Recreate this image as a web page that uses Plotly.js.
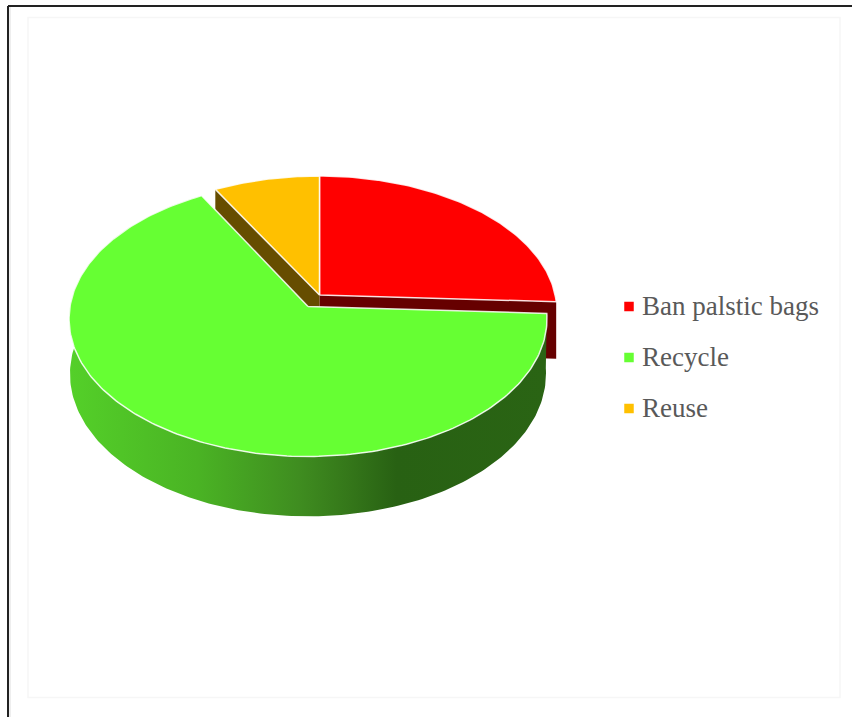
<!DOCTYPE html>
<html>
<head>
<meta charset="utf-8">
<script src="https://cdn.plot.ly/plotly-3.0.1.min.js"></script>
<style>html,body{margin:0;padding:0;background:#fff}#chart{width:852px;height:717px}</style>
</head>
<body>
<div id="chart"></div>
<script>
// Shares of each waste-reduction measure, clockwise from twelve o'clock
const categories = ['Ban palstic bags', 'Recycle', 'Reuse'];
const values = [25.8, 66.2, 8];
const topColors = ['#ff0000', '#66ff33', '#ffc000'];
const wallColors = ['#660000', '#2a6414', '#664d00'];

// Where each wedge's tip sits once the green wedge is pulled out of the pie
const tipX = [319.5, 308, 319.5];
const tipY = [295, 306.5, 295];
// The pulled-out wedge is nearer the viewer, so its projection differs a little
const wedgeScale = [0.99, 1, 1];
const wedgeFlatten = [132.7, 136.5, 132.7];
const wedgePerspective = [0.115, 0.09, 0.115];

// Shading of the curved green wall, left to right
const wallStops = [[0, '#54d029'], [0.27, '#4ab324'], [0.48, '#3f8d20'], [0.58, '#35781a'], [0.685, '#286113'], [1, '#2a6414']];

// Tilted-disc projection of the pie
const RADIUS = 238, DEPTH = 54.5, CUT_DEPTH = 57, BASE_SCALE = 0.996;

function rim(i, deg, lowered) {
  const a = deg * Math.PI / 180, u = Math.sin(a), v = Math.cos(a);
  const s = 1 / (1 + wedgePerspective[i] * v);
  const shrink = lowered ? BASE_SCALE : 1;
  return [tipX[i] + RADIUS * wedgeScale[i] * u * s * shrink,
          tipY[i] - wedgeFlatten[i] * v * s + (lowered ? DEPTH * s : 0)];
}

function arc(i, from, to, lowered) {
  const pts = [], n = Math.max(2, Math.ceil(Math.abs(to - from)));
  for (let k = 0; k <= n; k++) pts.push(rim(i, from + (to - from) * k / n, lowered));
  return pts;
}

const total = values.reduce((a, b) => a + b, 0);
const spans = [];
values.reduce((start, val) => { const end = start + val / total * 360; spans.push([start, end]); return end; }, 0);

function poly(pts, fill, line, name) {
  return {
    type: 'scatter', mode: 'lines', name: name, hoverinfo: 'skip', showlegend: false,
    x: pts.map(p => p[0]), y: pts.map(p => p[1]),
    fill: 'toself', fillcolor: fill,
    line: line || {width: 0, color: fill}
  };
}

const whiteEdge = {color: 'rgba(255,255,255,0.85)', width: 1.5};

function face(i) {
  const [a, b] = spans[i];
  const pts = [[tipX[i], tipY[i]], ...arc(i, a, b, false), [tipX[i], tipY[i]]];
  return poly(pts, topColors[i], whiteEdge, categories[i]);
}

// Flat cut wall below the straight edge of a wedge, at angle deg
function cutWall(i, deg) {
  const outer = rim(i, deg, false);
  const pts = [[tipX[i], tipY[i]], outer, [outer[0], outer[1] + CUT_DEPTH], [tipX[i], tipY[i] + CUT_DEPTH], [tipX[i], tipY[i]]];
  return poly(pts, wallColors[i], null, categories[i] + ' wall');
}

// Curved outer wall of the green wedge
function curvedWall(i) {
  const [a, b] = spans[i];
  const upper = arc(i, a, b, false), lower = arc(i, a, b, true).reverse();
  const pts = [...upper, ...lower, upper[0]];
  const xs = pts.map(p => p[0]);
  const tr = poly(pts, wallColors[i], null, categories[i] + ' outer wall');
  tr.fillgradient = {type: 'horizontal', colorscale: wallStops, start: Math.min(...xs), stop: Math.max(...xs)};
  return tr;
}

const legendY = [306.5, 357.5, 408.5];
const legendTextY = [308.5, 359.5, 410.5];

const traces = [
  cutWall(0, spans[0][1]),
  cutWall(2, spans[2][0]),
  face(0),
  face(2),
  curvedWall(1),
  face(1),
  {
    type: 'scatter', mode: 'markers', hoverinfo: 'skip', showlegend: false,
    x: categories.map(() => 629), y: legendY,
    marker: {symbol: 'square', size: 9.5, color: topColors, line: {width: 0}}
  },
  {
    type: 'scatter', mode: 'text', hoverinfo: 'skip', showlegend: false,
    x: categories.map(() => 642), y: legendTextY, text: categories,
    textposition: 'middle right',
    textfont: {family: '"Liberation Serif", serif', size: 27, color: '#595959'}
  }
];

const layout = {
  width: 852, height: 717,
  margin: {l: 0, r: 0, t: 0, b: 0},
  paper_bgcolor: '#ffffff', plot_bgcolor: '#ffffff',
  showlegend: false,
  xaxis: {range: [0, 852], visible: false, fixedrange: true},
  yaxis: {range: [717, 0], visible: false, fixedrange: true},
  shapes: [
    {type: 'rect', layer: 'below', x0: 28, y0: 17.5, x1: 840, y1: 697.5, line: {color: '#f6f6f6', width: 1.5}},
    {type: 'line', layer: 'below', x0: 10, y0: 7, x1: 10, y1: 717, line: {color: '#dddddd', width: 1}},
    {type: 'line', layer: 'below', x0: 8, y0: 6, x1: 8, y1: 717, line: {color: '#222222', width: 2}},
    {type: 'line', layer: 'below', x0: 8, y0: 6, x1: 852, y1: 6, line: {color: '#222222', width: 2}}
  ]
};

Plotly.newPlot('chart', traces, layout, {displayModeBar: false, staticPlot: true});
</script>
</body>
</html>
